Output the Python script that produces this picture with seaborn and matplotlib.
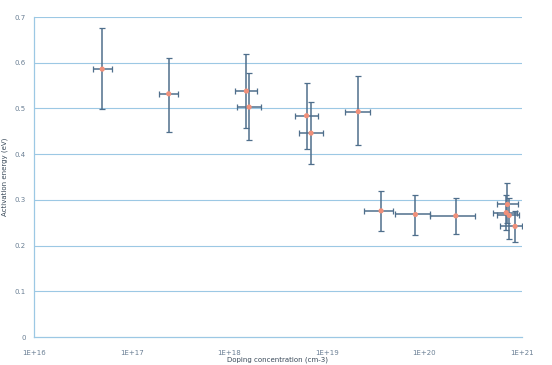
import numpy as np
import pandas as pd
import matplotlib
matplotlib.use("Agg")
import matplotlib.pyplot as plt
from matplotlib.ticker import FixedLocator, FuncFormatter, NullLocator
import seaborn as sns

# Valores
concentracion = [5.0e16, 2.4e17, 1.5e18, 1.6e18, 6.2e18, 6.9e18, 2.1e19,
                 3.6e19, 8.1e19, 2.1e20, 7.1e20, 6.9e20, 7.4e20, 8.5e20]
conc_min = [4.0e16, 1.9e17, 1.15e18, 1.2e18, 4.7e18, 5.2e18, 1.55e19,
            2.4e19, 5.0e19, 1.14e20, 5.5e20, 5.1e20, 5.6e20, 5.9e20]
conc_max = [6.3e16, 3.0e17, 1.95e18, 2.1e18, 8.2e18, 9.1e18, 2.8e19,
            4.8e19, 1.14e20, 3.3e20, 9.2e20, 8.8e20, 9.4e20, 1.0e21]
energia = [0.586, 0.532, 0.538, 0.503, 0.484, 0.446, 0.493,
           0.276, 0.268, 0.265, 0.290, 0.272, 0.266, 0.242]
energia_min = [0.498, 0.449, 0.458, 0.430, 0.411, 0.378, 0.420,
               0.232, 0.223, 0.225, 0.250, 0.235, 0.215, 0.207]
energia_max = [0.675, 0.610, 0.619, 0.577, 0.555, 0.514, 0.570,
               0.320, 0.311, 0.303, 0.336, 0.310, 0.305, 0.275]

x_ticks = [1e16, 1e17, 1e18, 1e19, 1e20, 1e21]
y_ticks = [0, 0.1, 0.2, 0.3, 0.4, 0.5, 0.6, 0.7]

df = pd.DataFrame({'conc': concentracion, 'energia': energia})
x = np.array(concentracion)
y = np.array(energia)
xerr = [x - np.array(conc_min), np.array(conc_max) - x]
yerr = [y - np.array(energia_min), np.array(energia_max) - y]

sns.set_theme(style="white")

fig = plt.figure(figsize=(5.52, 3.65), dpi=100)
ax = fig.add_axes([0.0616, 0.0767, 0.884, 0.8767])

azul_claro = '#9cc8e4'
ax.set_xscale('log')
ax.set_xlim(1e16, 1e21)
ax.set_ylim(0, 0.7)

for v in y_ticks[1:]:
    ax.axhline(v, color=azul_claro, lw=0.8, zorder=0)

ax.errorbar(x, y, xerr=xerr, yerr=yerr, fmt='none', ecolor='#4f6f8c',
            elinewidth=1.1, capsize=2, capthick=0.9, zorder=2)
sns.scatterplot(data=df, x='conc', y='energia', ax=ax, color='#f0907a',
                s=14, marker='o', edgecolor='none', zorder=3, legend=False)

ax.xaxis.set_major_locator(FixedLocator(x_ticks))
ax.xaxis.set_minor_locator(NullLocator())
ax.xaxis.set_major_formatter(FuncFormatter(lambda v, p: "1E+%d" % round(np.log10(v))))
ax.set_yticks(y_ticks)
ax.set_yticklabels(['0' if v == 0 else '%.1f' % v for v in y_ticks])

for lado in ['top', 'right']:
    ax.spines[lado].set_visible(False)
for lado in ['left', 'bottom']:
    ax.spines[lado].set_color(azul_claro)
    ax.spines[lado].set_linewidth(0.9)

ax.tick_params(axis='x', labelsize=5, colors='#6a7f94', length=3,
               width=0.6, direction='out', pad=6)
ax.tick_params(axis='y', labelsize=5, colors='#6a7f94', length=3,
               width=0.6, direction='out', pad=3)
ax.tick_params(axis='both', color=azul_claro)

ax.set_xlabel('Doping concentration (cm-3)', fontsize=5, color='#3a4a5a', labelpad=1)
ax.set_ylabel('Activation energy (eV)', fontsize=5, color='#3a4a5a')
ax.yaxis.set_label_coords(-0.053, 0.5)

fig.savefig('out.png', dpi=100)
